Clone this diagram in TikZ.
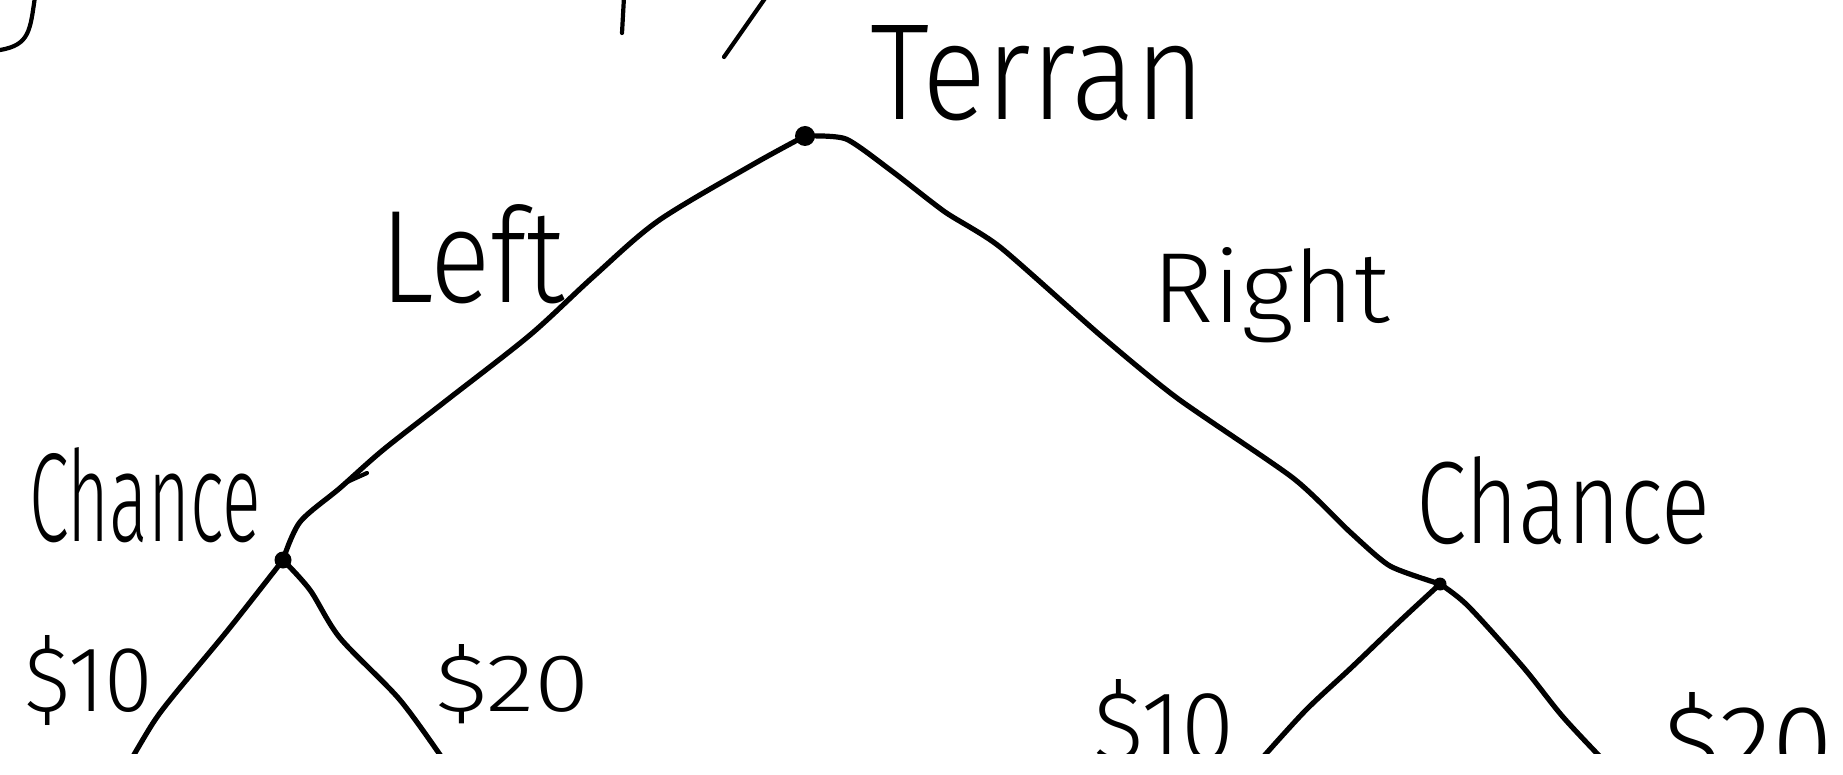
\documentclass[tikz,border=0pt]{standalone}
\usepackage{fontspec}
\newfontfamily\hand{Fira Sans Light}
\newcommand{\hw}[3]{\resizebox{#1pt}{#2pt}{#3}}
\begin{document}
\begin{tikzpicture}[x=1pt,y=-1pt,
  edge/.style={line width=5.2pt, line cap=round, line join=round},
  stroke/.style={line width=4.2pt, line cap=round, line join=round},
  lbl/.style={inner sep=0pt, outer sep=0pt, anchor=base west, font=\hand\fontsize{40}{40}\selectfont},
  dot/.style={circle, fill, inner sep=0pt, minimum size=#1},
  dot/.default=9pt]
\useasboundingbox (0,0) rectangle (1843,775);
\begin{scope}
\clip (0,0) rectangle (1843,753);
% decision / chance nodes
\node[dot=20pt] (terran) at (805,136) {};
\node[dot=17pt] (lchance) at (283,560) {};
\node[dot=13pt] (rchance) at (1440,584) {};
\coordinate (ll) at (128,765);
\coordinate (lr) at (447,765);
\coordinate (rl) at (1256,765);
\coordinate (rr) at (1608,765);
% edges
\draw[edge] plot[smooth, tension=0.5] coordinates {(terran.center) (752,165) (658,221) (593,277) (530,335) (447,400) (383,450) (340,488) (300,522) (lchance.center)};
\draw[edge] plot[smooth, tension=0.4] coordinates {(terran.center) (846,139) (893,172) (945,212) (1000,247) (1100,335) (1177,398) (1293,478) (1350,532) (1390,566) (rchance.center)};
\draw[edge] plot[smooth, tension=0.5] coordinates {(lchance.center) (228,630) (174,695) (153,723) (ll)};
\draw[edge] plot[smooth, tension=0.5] coordinates {(lchance.center) (310,590) (340,638) (400,700) (lr)};
\draw[edge] plot[smooth, tension=0.5] coordinates {(rchance.center) (1400,621) (1352,667) (1305,711) (rl)};
\draw[edge] plot[smooth, tension=0.5] coordinates {(rchance.center) (1468,606) (1523,667) (1563,717) (rr)};
% small stray strokes
\draw[stroke] (347,482) -- (367,473);
\draw[stroke] (35,-3) .. controls (30,30) and (30,45) .. (0,50);
\draw[stroke] (624,-3) -- (622,33);
\draw[stroke] (766,-3) -- (724,57);
% labels
\node[lbl] (tTerran) at (870,120) {\hw{335}{94}{Terran}};
\node[lbl] (tLeft) at (380,303) {\hw{185}{98}{Left}};
\node[lbl] (tRight) at (1152,322) {\hw{238}{75}{Right}};
\node[lbl] (tLChance) at (29,541) {\hw{232}{94}{Chance}};
\node[lbl] (tRChance) at (1416,543) {\hw{294}{87}{Chance}};
\node[lbl] (tL10) at (24,711) {\hw{129}{76}{\$10}};
\node[lbl] (tL20) at (435,711) {\hw{155}{67}{\$20}};
\node[lbl] (tR10) at (1093,760) {\hw{141}{81}{\$10}};
\node[lbl] (tR20) at (1663,780) {\hw{170}{88}{\$20}};
\end{scope}
\end{tikzpicture}
\end{document}
